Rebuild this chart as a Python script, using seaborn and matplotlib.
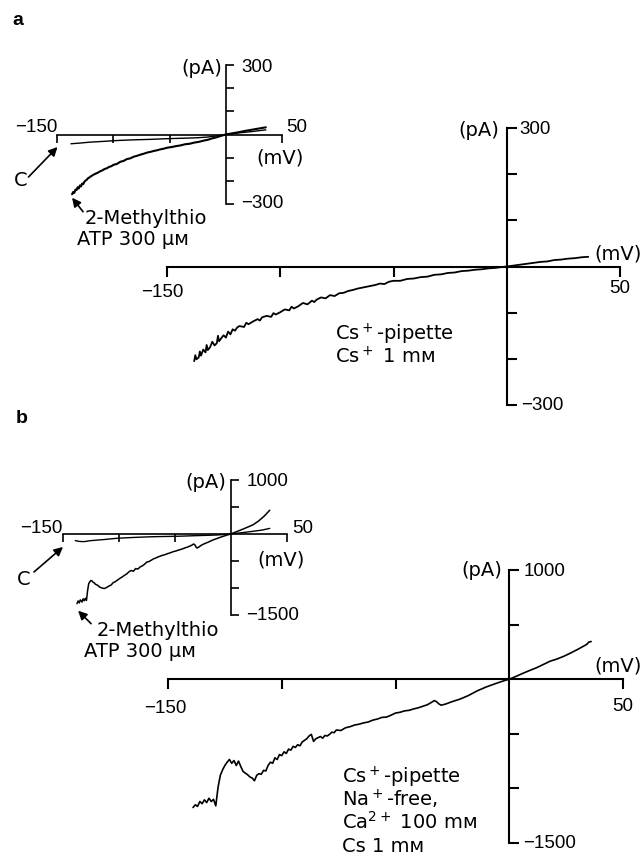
import matplotlib
matplotlib.use("Agg")
import matplotlib.pyplot as plt
import seaborn as sns

sns.set_style("white")
plt.rcParams['font.family'] = ['DejaVu Sans']
plt.rcParams['mathtext.fontset'] = 'dejavusans'
plt.rcParams['text.color'] = 'black'

# ----- Data -----
# panel a, inset: total currents (mV, pA)
a_atp_mv = [-137, -136, -135, -134, -133, -132, -131, -130, -129, -128, -127, -126, -125, -124,
            -123, -122, -120, -118, -116, -114, -112, -110, -108, -106, -104, -102, -100, -97,
            -94, -91, -88, -85, -82, -79, -76, -73, -70, -67, -64, -61, -58, -55, -52, -48,
            -44, -40, -36, -32, -28, -24, -20, -16, -12, -8, -4, 0, 6, 12, 18, 24, 30, 36]
a_atp_pa = [-258, -248, -252, -238, -240, -228, -233, -220, -224, -212, -214, -204, -199, -196,
            -190, -187, -180, -174, -169, -165, -159, -155, -149, -146, -140, -137, -131, -127,
            -118, -114, -106, -103, -96, -92, -87, -83, -78, -75, -71, -68, -64, -61, -57, -54,
            -50, -47, -42, -40, -35, -32, -27, -23, -17, -12, -6, 0, 5, 10, 16, 21, 26, 31]
a_ctl_mv = [-138, -130, -121, -110, -97, -82, -67, -52, -37, -25, -16, -8, 0, 12, 24, 36]
a_ctl_pa = [-40, -37, -33, -30, -26, -23, -21, -18, -16, -14, -11, -6, 0, 7, 13, 20]

# panel a, main: ATP-induced current
a_mv = [-138, -137.5, -137, -136, -135.5, -135, -134, -133, -132.5, -132, -131, -130, -129,
        -128, -127.5, -127, -126, -125, -124, -123, -122, -121, -120, -119, -118, -116, -115,
        -114, -112, -110, -109, -108, -106, -104, -103, -102, -100, -98, -96, -95, -94, -92,
        -90, -88, -86, -85, -84, -82, -80, -78, -76, -74, -72, -70, -68, -66, -64, -62, -60,
        -58, -56, -54, -52, -50, -47, -44, -41, -38, -35, -32, -29, -26, -23, -20, -17, -14,
        -11, -8, -5, -2, 0, 3, 6, 9, 12, 15, 18, 21, 24, 27, 30, 33, 36]
a_pa = [-205, -192, -201, -197, -184, -193, -180, -186, -170, -181, -175, -163, -171, -166,
        -150, -162, -155, -149, -154, -141, -147, -136, -139, -132, -129, -131, -122, -125,
        -119, -114, -117, -110, -107, -109, -101, -104, -99, -93, -95, -87, -91, -86, -79,
        -82, -74, -77, -72, -67, -69, -62, -64, -58, -57, -53, -51, -48, -46, -44, -42, -40,
        -37, -38, -33, -31, -31, -27, -26, -23, -22, -18, -17, -14, -13, -10, -9, -7, -6,
        -4, -3, -1, 0, 2, 4, 6, 8, 10, 11, 14, 15, 17, 18, 20, 21]

# panel b, inset
b_atp_mv = [-137.5, -136.5, -135.5, -134.5, -133, -132, -131, -130, -129, -128, -127, -126,
            -125, -124, -123, -122, -121, -119, -117, -115, -113, -111, -109, -107, -105,
            -103, -101, -99, -97, -95, -93, -91, -89, -87, -85, -83, -81, -79, -77, -75, -73,
            -71, -69, -67, -65, -63, -61, -59, -57, -55, -53, -51, -49, -47, -45, -43, -41,
            -39, -37, -35, -33, -32, -31, -30, -28, -26, -24, -20, -16, -12, -8, -4, 0, 5,
            10, 15, 20, 25, 30, 35]
b_atp_pa = [-1290, -1240, -1275, -1220, -1260, -1200, -1235, -1190, -1230, -1050, -920, -885,
            -860, -870, -895, -905, -930, -950, -985, -1000, -1010, -990, -965, -945, -900,
            -880, -850, -820, -795, -765, -740, -700, -675, -690, -640, -650, -610, -590, -560,
            -520, -510, -485, -460, -445, -425, -410, -395, -385, -368, -355, -340, -325, -315,
            -300, -288, -275, -258, -245, -228, -210, -185, -200, -240, -260, -235, -205, -185,
            -150, -112, -82, -52, -25, 0, 40, 82, 125, 170, 240, 330, 440]
b_ctl_mv = [-139, -137, -135, -133, -131, -129, -127, -125, -122, -118, -114, -108, -102, -95,
            -88, -80, -72, -64, -56, -48, -40, -30, -20, -12, -5, 0, 10, 20, 28, 35]
b_ctl_pa = [-122, -132, -138, -140, -141, -135, -128, -122, -118, -110, -104, -92, -80, -72,
            -65, -58, -52, -48, -45, -42, -37, -30, -24, -18, -8, 0, 24, 50, 72, 104]

# panel b, main
b_mv = [-139, -138, -137, -136, -135, -134, -133, -132, -131, -130, -129, -128, -127, -126,
        -125, -124, -123, -122, -121, -120, -119, -118, -117, -116, -115, -114, -113, -112,
        -111, -110, -109, -108, -107, -106, -105, -104, -103, -102, -101, -100, -99, -98,
        -97, -96, -95, -94, -93, -92, -91, -90, -89, -88, -87, -86, -85, -84, -83, -82, -81,
        -80, -79, -78, -77, -76, -74, -72, -70, -68, -66, -64, -62, -60, -58, -56, -54, -52,
        -50, -48, -46, -44, -42, -40, -38, -36, -34, -33, -32, -31, -30, -28, -26, -24, -22,
        -20, -18, -16, -14, -12, -10, -8, -6, -4, -2, 0, 3, 6, 9, 12, 15, 18, 21, 24, 27, 30,
        32, 34, 35, 36]
b_pa = [-1175, -1150, -1165, -1120, -1140, -1105, -1130, -1090, -1120, -1100, -1160, -990,
        -880, -830, -790, -760, -735, -770, -745, -790, -750, -800, -845, -860, -875, -895,
        -905, -930, -880, -865, -870, -835, -840, -790, -760, -770, -720, -735, -690, -700,
        -665, -680, -640, -650, -615, -625, -600, -610, -575, -560, -545, -520, -505, -570,
        -545, -535, -525, -540, -515, -520, -505, -485, -490, -465, -470, -445, -435, -420,
        -412, -400, -392, -375, -365, -350, -347, -330, -310, -303, -290, -285, -272, -262,
        -248, -234, -210, -196, -205, -225, -238, -228, -212, -198, -185, -168, -150, -128,
        -106, -88, -70, -55, -40, -26, -12, 0, 26, 54, 80, 105, 135, 165, 185, 210, 240, 272,
        295, 318, 340, 345]

a_yticks = [-300, -200, -100, 100, 200, 300]
b_yticks = [-1500, -1000, -500, 500, 1000]
x_ticks = [-150, -100, -50, 50]

W, H = 642, 856
fig = plt.figure(figsize=(W / 100, H / 100), dpi=100)

NUM = ['Liberation Sans', 'DejaVu Sans']
FS = 13.5


def make_ax(x0, x1, ytop, ybot, ylim, yticks, big):
    ax = fig.add_axes([x0 / W, 1 - ybot / H, (x1 - x0) / W, (ybot - ytop) / H])
    ax.patch.set_visible(False)
    ax.set_xlim(-150, 50)
    ax.set_ylim(*ylim)
    lw = 1.5 if big else 1.2
    for s in ['top', 'right']:
        ax.spines[s].set_visible(False)
    for s in ['left', 'bottom']:
        ax.spines[s].set_position(('data', 0))
        ax.spines[s].set_linewidth(lw)
        ax.spines[s].set_color('k')
    ax.set_xticks(x_ticks)
    ax.set_yticks(yticks)
    tl = 7 if big else 5.8
    ax.tick_params(axis='x', bottom=True, direction='out', length=tl, width=lw,
                   labelbottom=False, color='k')
    ax.tick_params(axis='y', left=True, direction='in', length=tl, width=lw,
                   labelleft=False, color='k')
    ax.set_xlabel("")
    ax.set_ylabel("")
    return ax


def lab(ax, s, xy, dx, dy, ha, num=True):
    ax.annotate(s, xy=xy, xytext=(dx, -dy), textcoords='offset pixels', ha=ha, va='center',
                fontsize=FS if num else 14, family=NUM if num else ['DejaVu Sans'],
                annotation_clip=False)


def ftext(x, y, s, **kw):
    fig.text(x / W, 1 - y / H, s, va='baseline', ha='left', fontsize=14, **kw)


def arrow(ax, xy, dx, dy):
    ax.annotate("", xy=xy, xytext=(dx, -dy), textcoords='offset pixels', annotation_clip=False,
                arrowprops=dict(arrowstyle='-|>', color='k', lw=1.2, mutation_scale=13,
                                shrinkA=0, shrinkB=0))


# ----- panel a -----
ax_ai = make_ax(57.5, 281.5, 65, 204, (-300, 300), a_yticks, False)
sns.lineplot(x=a_ctl_mv, y=a_ctl_pa, ax=ax_ai, color='k', lw=1.0, estimator=None, sort=False)
sns.lineplot(x=a_atp_mv, y=a_atp_pa, ax=ax_ai, color='k', lw=1.5, estimator=None, sort=False)
lab(ax_ai, "\u2212150", (-150, 0), 0, -7, 'right')
lab(ax_ai, "50", (50, 0), 5, -7, 'left')
lab(ax_ai, "(mV)", (50, 0), -1.5, 23, 'center', num=False)
lab(ax_ai, "(pA)", (0, 300), -3.5, 3, 'right', num=False)
lab(ax_ai, "300", (0, 300), 16, 3, 'left')
lab(ax_ai, "\u2212300", (0, -300), 16, 0, 'left')
arrow(ax_ai, (-150, -54), -29, 30)
arrow(ax_ai, (a_atp_mv[0], a_atp_pa[0] - 15), 11, 14)

ax_a = make_ax(167, 620, 128, 405, (-300, 300), a_yticks, True)
sns.lineplot(x=a_mv, y=a_pa, ax=ax_a, color='k', lw=1.3, estimator=None, sort=False)
lab(ax_a, "\u2212150", (-150, 0), -5, 26, 'center')
lab(ax_a, "50", (50, 0), 0, 22, 'center')
lab(ax_a, "(mV)", (50, 0), -2, -13, 'center', num=False)
lab(ax_a, "(pA)", (0, 300), -7, 2, 'right', num=False)
lab(ax_a, "300", (0, 300), 13, 2, 'left')
lab(ax_a, "\u2212300", (0, -300), 14, 0, 'left')

ftext(12, 25, "a", fontweight='bold', family=NUM)
ftext(14, 186, "C")
ftext(85, 224, "2-Methylthio")
ftext(77, 245, "ATP 300 \u03bc\u1d0d")
ftext(335, 340, "Cs$^+$-pipette")
ftext(335, 363, "Cs$^+$ 1 m\u1d0d")

# ----- panel b -----
ax_bi = make_ax(63, 286.5, 480, 615, (-1500, 1000), b_yticks, False)
sns.lineplot(x=b_ctl_mv, y=b_ctl_pa, ax=ax_bi, color='k', lw=1.0, estimator=None, sort=False)
sns.lineplot(x=b_atp_mv, y=b_atp_pa, ax=ax_bi, color='k', lw=1.1, estimator=None, sort=False)
lab(ax_bi, "\u2212150", (-150, 0), -1, -5.5, 'right')
lab(ax_bi, "50", (50, 0), 5.5, -5.5, 'left')
lab(ax_bi, "(mV)", (50, 0), -5.5, 26, 'center', num=False)
lab(ax_bi, "(pA)", (0, 1000), -4.5, 2, 'right', num=False)
lab(ax_bi, "1000", (0, 1000), 15.5, 2, 'left')
lab(ax_bi, "\u22121500", (0, -1500), 15.5, 0, 'left')
arrow(ax_bi, (-150, -240), -29, 25)
arrow(ax_bi, (b_atp_mv[0] + 1, -1420), 13, 13)

ax_b = make_ax(168, 623, 570, 843, (-1500, 1000), b_yticks, True)
sns.lineplot(x=b_mv, y=b_pa, ax=ax_b, color='k', lw=1.2, estimator=None, sort=False)
lab(ax_b, "\u2212150", (-150, 0), -3, 29, 'center')
lab(ax_b, "50", (50, 0), 0, 27, 'center')
lab(ax_b, "(mV)", (50, 0), -5, -13, 'center', num=False)
lab(ax_b, "(pA)", (0, 1000), -7, 1, 'right', num=False)
lab(ax_b, "1000", (0, 1000), 14, 1, 'left')
lab(ax_b, "\u22121500", (0, -1500), 14, 0, 'left')

ftext(16, 423, "b", fontweight='bold', family=NUM)
ftext(17, 585, "C")
ftext(97, 636, "2-Methylthio")
ftext(84, 657, "ATP 300 \u03bc\u1d0d")
ftext(342, 783, "Cs$^+$-pipette")
ftext(342, 806, "Na$^+$-free,")
ftext(342, 829, "Ca$^{2+}$ 100 m\u1d0d")
ftext(342, 852, "Cs 1 m\u1d0d")

fig.savefig("out.png", dpi=100, facecolor='white')
